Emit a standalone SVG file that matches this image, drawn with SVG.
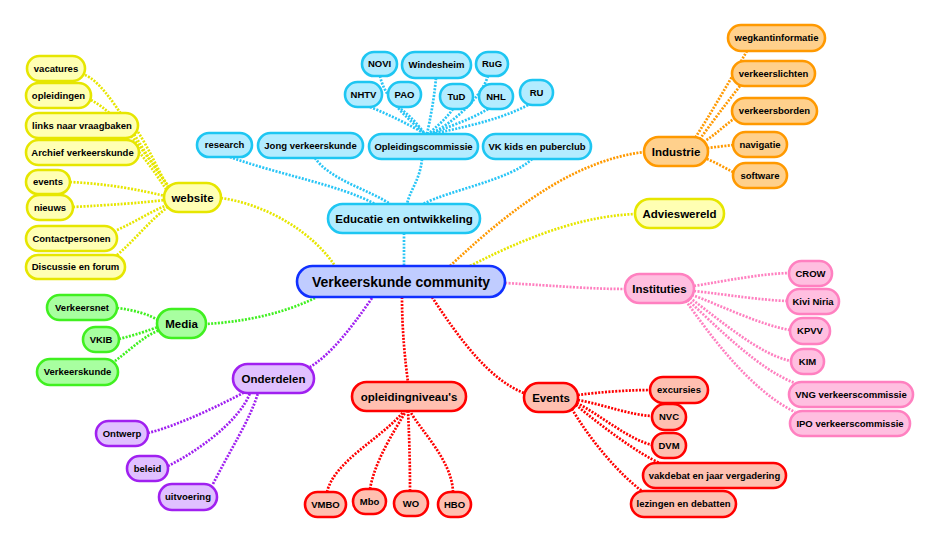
<svg xmlns="http://www.w3.org/2000/svg" width="936" height="538" viewBox="0 0 936 538">
<style>
text{font-family:"Liberation Sans",Arial,sans-serif;font-weight:bold;fill:#000;text-anchor:middle}
.s{font-size:9.5px}
.m{font-size:11.5px}
.c{font-size:14px}
rect{stroke-width:2.6}
path{fill:none;stroke-width:2.7;stroke-dasharray:2 1.4}
.cy rect{fill:#b3ecff;stroke:#1ec6f2}
.ye rect{fill:#ffffb3;stroke:#e6e600}
.or rect{fill:#ffd08c;stroke:#ff9900}
.pk rect{fill:#ffbfe0;stroke:#ff80c0}
.rd rect{fill:#ffbfb0;stroke:#ff0000}
.gr rect{fill:#a8ffa0;stroke:#40f020}
.pu rect{fill:#e0c0ff;stroke:#a020f0}
.ce rect{fill:#c0ccff;stroke:#1030ff}
.lcy{stroke:#29c5f6}.lye{stroke:#e6e600}.lor{stroke:#ff9900}.lpk{stroke:#ff80c0}.lrd{stroke:#ff0000}.lgr{stroke:#40f020}.lpu{stroke:#a020f0}
</style>
<rect width="936" height="538" fill="#fff"/>
<g id="connectors">
<path class="lye" d="M221,198 C270,205 315,235 335,266"/>
<path class="lcy" d="M404,233 C404,245 404,255 404,266"/>
<path class="lor" d="M450,266 C520,200 580,160 644,152"/>
<path class="lye" d="M470,266 C540,230 590,216 635,214"/>
<path class="lpk" d="M505,283 C560,286 590,289 625,289"/>
<path class="lrd" d="M432,297 C460,340 490,380 524,393"/>
<path class="lrd" d="M402,297 C402,330 405,360 408,382"/>
<path class="lgr" d="M315,298 C280,315 240,322 206,324"/>
<path class="lpu" d="M372,298 C350,330 330,355 310,367"/>
<path class="lye" d="M85,75 C110,85 140,150 170,188"/>
<path class="lye" d="M91,100 C120,115 150,160 170,189"/>
<path class="lye" d="M138,132 C150,150 160,175 170,190"/>
<path class="lye" d="M139,152 C150,165 160,180 168,192"/>
<path class="lye" d="M70,182 C110,184 140,190 165,196"/>
<path class="lye" d="M73,207 C110,205 140,203 165,200"/>
<path class="lye" d="M117,230 C135,222 150,212 167,205"/>
<path class="lye" d="M117,255 C135,240 150,220 168,207"/>
<path class="lcy" d="M230,157 C280,175 340,185 375,204"/>
<path class="lcy" d="M315,158 C330,180 370,190 390,204"/>
<path class="lcy" d="M422,159 C420,180 410,190 407,204"/>
<path class="lcy" d="M532,159 C510,180 450,190 423,204"/>
<path class="lcy" d="M380,76 C385,100 410,120 425,134"/>
<path class="lcy" d="M370,107 C390,115 410,125 425,134"/>
<path class="lcy" d="M398,107 C410,115 418,125 425,134"/>
<path class="lcy" d="M436,78 C434,100 430,120 427,134"/>
<path class="lcy" d="M453,109 C445,120 435,128 428,134"/>
<path class="lcy" d="M488,76 C480,100 450,125 430,134"/>
<path class="lcy" d="M488,109 C470,120 445,128 430,134"/>
<path class="lcy" d="M528,105 C500,120 460,128 432,134"/>
<path class="lor" d="M747,51 C730,80 710,115 695,138"/>
<path class="lor" d="M740,86 C725,105 710,125 700,139"/>
<path class="lor" d="M735,118 C725,125 715,135 705,141"/>
<path class="lor" d="M733,145 C725,146 715,147 708,148"/>
<path class="lor" d="M733,172 C725,168 715,162 707,159"/>
<path class="lpk" d="M694,286 C730,280 760,274 789,273"/>
<path class="lpk" d="M694,291 C730,295 760,300 787,301"/>
<path class="lpk" d="M692,295 C720,305 760,325 790,330"/>
<path class="lpk" d="M690,298 C720,320 760,355 791,361"/>
<path class="lpk" d="M688,300 C720,330 760,370 795,383"/>
<path class="lpk" d="M686,301 C710,335 750,390 795,412"/>
<path class="lrd" d="M578,395 C600,392 630,390 650,390"/>
<path class="lrd" d="M578,400 C605,405 630,415 652,416"/>
<path class="lrd" d="M577,403 C600,415 630,440 652,445"/>
<path class="lrd" d="M576,405 C600,425 640,455 660,463"/>
<path class="lrd" d="M572,409 C590,440 620,475 642,491"/>
<path class="lrd" d="M327,492 C335,460 380,440 404,411"/>
<path class="lrd" d="M370,489 C375,460 395,430 406,411"/>
<path class="lrd" d="M410,491 C410,460 409,430 408,411"/>
<path class="lrd" d="M453,492 C452,460 420,430 410,411"/>
<path class="lgr" d="M117,308 C135,310 150,315 158,320"/>
<path class="lgr" d="M119,339 C135,335 150,330 158,327"/>
<path class="lgr" d="M115,361 C130,350 145,335 160,330"/>
<path class="lpu" d="M148,433 C180,425 220,405 245,392"/>
<path class="lpu" d="M168,466 C200,450 240,420 250,393"/>
<path class="lpu" d="M213,484 C230,450 250,420 258,393"/>
</g>
<g id="center" class="ce"><rect x="297" y="266" width="208" height="31" rx="15.5"/><text class="c" x="401" y="286.5">Verkeerskunde community</text></g>
<g id="website" class="ye"><rect x="164" y="183" width="57" height="29" rx="14.5"/><text class="m" x="192.5" y="201.5">website</text></g>
<g id="vacatures" class="ye"><rect x="27" y="56" width="58" height="25" rx="12.5"/><text class="s" x="56" y="71.8">vacatures</text></g>
<g id="opleidingen" class="ye"><rect x="26" y="83" width="65" height="25" rx="12.5"/><text class="s" x="58.5" y="98.8">opleidingen</text></g>
<g id="links" class="ye"><rect x="26" y="113" width="112" height="25" rx="12.5"/><text class="s" x="82" y="128.8">links naar vraagbaken</text></g>
<g id="archief" class="ye"><rect x="26" y="140" width="113" height="25" rx="12.5"/><text class="s" x="82.5" y="155.8">Archief verkeerskunde</text></g>
<g id="events-web" class="ye"><rect x="26" y="170" width="44" height="24" rx="12"/><text class="s" x="48" y="185.3">events</text></g>
<g id="nieuws" class="ye"><rect x="27" y="195" width="46" height="25" rx="12.5"/><text class="s" x="50" y="210.8">nieuws</text></g>
<g id="contact" class="ye"><rect x="26" y="226" width="91" height="25" rx="12.5"/><text class="s" x="71.5" y="241.8">Contactpersonen</text></g>
<g id="discussie" class="ye"><rect x="26" y="255" width="99" height="24" rx="12"/><text class="s" x="75.5" y="270.3">Discussie en forum</text></g>
<g id="educatie" class="cy"><rect x="328" y="204" width="152" height="29" rx="14.5"/><text class="m" x="404" y="222.5">Educatie en ontwikkeling</text></g>
<g id="research" class="cy"><rect x="197" y="133" width="55" height="24" rx="12"/><text class="s" x="224.5" y="148.3">research</text></g>
<g id="jong" class="cy"><rect x="258" y="133" width="105" height="25" rx="12.5"/><text class="s" x="310.5" y="148.8">Jong verkeerskunde</text></g>
<g id="opleidingscommissie" class="cy"><rect x="369" y="134" width="109" height="25" rx="12.5"/><text class="s" x="423.5" y="149.8">Opleidingscommissie</text></g>
<g id="vkkids" class="cy"><rect x="483" y="134" width="108" height="25" rx="12.5"/><text class="s" x="537" y="149.8">VK kids en puberclub</text></g>
<g id="novi" class="cy"><rect x="362" y="52" width="35" height="24" rx="12"/><text class="s" x="379.5" y="67.3">NOVI</text></g>
<g id="windesheim" class="cy"><rect x="402" y="52" width="69" height="26" rx="13"/><text class="s" x="436.5" y="68.3">Windesheim</text></g>
<g id="rug" class="cy"><rect x="476" y="52" width="32" height="24" rx="12"/><text class="s" x="492" y="67.3">RuG</text></g>
<g id="nhtv" class="cy"><rect x="345" y="82" width="37" height="25" rx="12.5"/><text class="s" x="363.5" y="97.8">NHTV</text></g>
<g id="pao" class="cy"><rect x="388" y="82" width="33" height="25" rx="12.5"/><text class="s" x="404.5" y="97.8">PAO</text></g>
<g id="tud" class="cy"><rect x="440" y="84" width="33" height="25" rx="12.5"/><text class="s" x="456.5" y="99.8">TuD</text></g>
<g id="nhl" class="cy"><rect x="479" y="84" width="34" height="25" rx="12.5"/><text class="s" x="496" y="99.8">NHL</text></g>
<g id="ru" class="cy"><rect x="520" y="80" width="33" height="25" rx="12.5"/><text class="s" x="536.5" y="95.8">RU</text></g>
<g id="industrie" class="or"><rect x="644" y="137" width="64" height="29" rx="14.5"/><text class="m" x="676" y="155.5">Industrie</text></g>
<g id="wegkant" class="or"><rect x="728" y="25" width="97" height="26" rx="13"/><text class="s" x="776.5" y="41.3">wegkantinformatie</text></g>
<g id="verkeerslichten" class="or"><rect x="732" y="61" width="83" height="25" rx="12.5"/><text class="s" x="773.5" y="76.8">verkeerslichten</text></g>
<g id="verkeersborden" class="or"><rect x="732" y="98" width="85" height="26" rx="13"/><text class="s" x="774.5" y="114.3">verkeersborden</text></g>
<g id="navigatie" class="or"><rect x="733" y="132" width="54" height="25" rx="12.5"/><text class="s" x="760" y="147.8">navigatie</text></g>
<g id="software" class="or"><rect x="733" y="163" width="54" height="25" rx="12.5"/><text class="s" x="760" y="178.8">software</text></g>
<g id="advies" class="ye"><rect x="635" y="199" width="89" height="29" rx="14.5"/><text class="m" x="679.5" y="217.5">Advieswereld</text></g>
<g id="instituties" class="pk"><rect x="625" y="274" width="69" height="29" rx="14.5"/><text class="m" x="659.5" y="292.5">Instituties</text></g>
<g id="crow" class="pk"><rect x="789" y="261" width="43" height="25" rx="12.5"/><text class="s" x="810.5" y="276.8">CROW</text></g>
<g id="kivi" class="pk"><rect x="787" y="289" width="52" height="25" rx="12.5"/><text class="s" x="813" y="304.8">Kivi Niria</text></g>
<g id="kpvv" class="pk"><rect x="790" y="318" width="40" height="26" rx="13"/><text class="s" x="810" y="334.3">KPVV</text></g>
<g id="kim" class="pk"><rect x="791" y="349" width="33" height="25" rx="12.5"/><text class="s" x="807.5" y="364.8">KIM</text></g>
<g id="vng" class="pk"><rect x="789" y="382" width="124" height="25" rx="12.5"/><text class="s" x="851" y="397.8">VNG verkeerscommissie</text></g>
<g id="ipo" class="pk"><rect x="790" y="411" width="120" height="25" rx="12.5"/><text class="s" x="850" y="426.8">IPO verkeerscommissie</text></g>
<g id="events" class="rd"><rect x="524" y="383" width="54" height="29" rx="14.5"/><text class="m" x="551" y="401.5">Events</text></g>
<g id="excursies" class="rd"><rect x="650" y="377" width="58" height="26" rx="13"/><text class="s" x="679" y="393.3">excursies</text></g>
<g id="nvc" class="rd"><rect x="652" y="404" width="34" height="26" rx="13"/><text class="s" x="669" y="420.3">NVC</text></g>
<g id="dvm" class="rd"><rect x="652" y="433" width="34" height="25" rx="12.5"/><text class="s" x="669" y="448.8">DVM</text></g>
<g id="vakdebat" class="rd"><rect x="643" y="463" width="143" height="25" rx="12.5"/><text class="s" x="714.5" y="478.8">vakdebat en jaar vergadering</text></g>
<g id="lezingen" class="rd"><rect x="631" y="491" width="105" height="26" rx="13"/><text class="s" x="683.5" y="507.3">lezingen en debatten</text></g>
<g id="opleidingniveau" class="rd"><rect x="352" y="382" width="114" height="29" rx="14.5"/><text class="m" x="409" y="400.5">opleidingniveau's</text></g>
<g id="vmbo" class="rd"><rect x="305" y="492" width="41" height="25" rx="12.5"/><text class="s" x="325.5" y="507.8">VMBO</text></g>
<g id="mbo" class="rd"><rect x="353" y="489" width="33" height="25" rx="12.5"/><text class="s" x="369.5" y="504.8">Mbo</text></g>
<g id="wo" class="rd"><rect x="394" y="491" width="34" height="25" rx="12.5"/><text class="s" x="411" y="506.8">WO</text></g>
<g id="hbo" class="rd"><rect x="438" y="492" width="33" height="25" rx="12.5"/><text class="s" x="454.5" y="507.8">HBO</text></g>
<g id="media" class="gr"><rect x="157" y="309" width="49" height="29" rx="14.5"/><text class="m" x="181.5" y="327.5">Media</text></g>
<g id="verkeersnet" class="gr"><rect x="47" y="295" width="70" height="25" rx="12.5"/><text class="s" x="82" y="310.8">Verkeersnet</text></g>
<g id="vkib" class="gr"><rect x="83" y="327" width="36" height="25" rx="12.5"/><text class="s" x="101" y="342.8">VKIB</text></g>
<g id="verkeerskunde" class="gr"><rect x="37" y="359" width="81" height="26" rx="13"/><text class="s" x="77.5" y="375.3">Verkeerskunde</text></g>
<g id="onderdelen" class="pu"><rect x="233" y="364" width="81" height="29" rx="14.5"/><text class="m" x="273.5" y="382.5">Onderdelen</text></g>
<g id="ontwerp" class="pu"><rect x="96" y="421" width="52" height="25" rx="12.5"/><text class="s" x="122" y="436.8">Ontwerp</text></g>
<g id="beleid" class="pu"><rect x="127" y="456" width="41" height="25" rx="12.5"/><text class="s" x="147.5" y="471.8">beleid</text></g>
<g id="uitvoering" class="pu"><rect x="159" y="484" width="58" height="26" rx="13"/><text class="s" x="188" y="500.3">uitvoering</text></g>
</svg>
